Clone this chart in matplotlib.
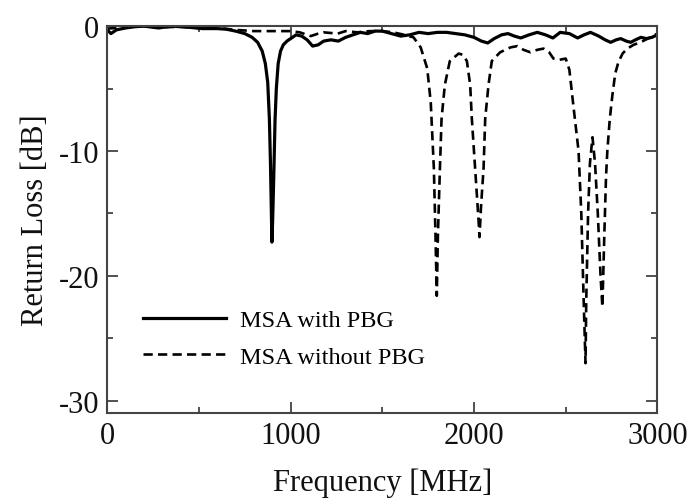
import matplotlib
matplotlib.use("Agg")
import matplotlib.pyplot as plt
from matplotlib.ticker import MultipleLocator

plt.rcParams["font.family"] = ["Liberation Serif", "DejaVu Serif"]
plt.rcParams["axes.unicode_minus"] = False

# MSA with PBG (solid)
freq_pbg = [0, 20, 50, 100, 150, 200, 280, 350, 400, 450, 520, 600, 650, 700, 750,
            790, 820, 845, 862, 875, 884, 890, 895, 898, 902, 908, 915, 922, 932,
            945, 960, 980, 1000, 1030, 1060, 1090, 1120, 1150, 1180, 1220, 1260,
            1300, 1340, 1380, 1420, 1460, 1500, 1550, 1600, 1650, 1700, 1750, 1800,
            1850, 1900, 1950, 2000, 2040, 2075, 2110, 2150, 2185, 2220, 2255, 2300,
            2345, 2390, 2430, 2470, 2520, 2565, 2600, 2635, 2680, 2715, 2745, 2775,
            2800, 2830, 2855, 2880, 2910, 2940, 2970, 3000]
rl_pbg = [-0.3, -0.6, -0.3, -0.15, -0.05, 0.0, -0.15, 0.0, -0.05, -0.1, -0.2, -0.2,
          -0.25, -0.4, -0.6, -0.9, -1.3, -2.0, -3.0, -4.5, -7.4, -11.0, -15.0, -17.3,
          -15.5, -12.0, -7.5, -5.0, -3.0, -2.0, -1.5, -1.2, -1.0, -0.7, -0.8, -1.1,
          -1.6, -1.5, -1.2, -1.1, -1.2, -0.9, -0.7, -0.5, -0.6, -0.4, -0.4, -0.6,
          -0.8, -0.7, -0.5, -0.6, -0.5, -0.5, -0.6, -0.7, -0.9, -1.2, -1.35, -1.0,
          -0.7, -0.6, -0.8, -0.95, -0.7, -0.5, -0.7, -0.95, -0.5, -0.6, -0.95, -0.7,
          -0.5, -0.8, -1.1, -1.3, -1.1, -1.0, -1.2, -1.3, -1.1, -0.9, -1.0, -0.9, -0.7]

# MSA without PBG (dashed)
freq_nopbg = [0, 100, 200, 300, 400, 500, 600, 700, 800, 900, 1000, 1050, 1110, 1150,
              1180, 1257, 1300, 1365, 1430, 1500, 1560, 1620, 1670, 1709, 1745, 1764,
              1781, 1790, 1797, 1803, 1814, 1823, 1841, 1868, 1916, 1940, 1961, 1979,
              1988, 2006, 2024, 2030, 2038, 2052, 2061, 2079, 2097, 2142, 2200, 2237,
              2270, 2308, 2345, 2379, 2410, 2433, 2465, 2500, 2520, 2542, 2570, 2585,
              2598, 2608, 2612, 2622, 2632, 2646, 2660, 2675, 2690, 2700, 2710, 2720,
              2727, 2740, 2754, 2770, 2787, 2810, 2836, 2870, 2907, 2961, 3000]
rl_nopbg = [-0.2, -0.1, 0.0, -0.1, -0.05, -0.15, -0.15, -0.3, -0.4, -0.4, -0.4, -0.5,
            -0.8, -0.6, -0.5, -0.6, -0.4, -0.5, -0.4, -0.4, -0.5, -0.7, -0.9, -1.7,
            -3.4, -6.1, -11.4, -16.8, -21.6, -16.8, -11.4, -7.4, -4.7, -2.8, -2.2,
            -2.3, -2.8, -4.7, -7.4, -11.4, -15.4, -16.9, -14.5, -11.4, -7.4, -4.7,
            -2.8, -2.1, -1.7, -1.6, -1.9, -2.1, -1.9, -1.8, -2.1, -2.6, -2.7, -2.6,
            -3.5, -6.4, -10.0, -15.0, -22.0, -27.0, -22.0, -15.0, -11.0, -8.9, -11.0,
            -15.0, -20.0, -22.5, -17.0, -12.0, -10.0, -7.5, -5.6, -3.8, -2.9, -2.2,
            -1.8, -1.5, -1.3, -0.9, -0.6]

fig = plt.figure(figsize=(6.92, 5.02), dpi=100)
ax = fig.add_axes([0.155, 0.175, 0.795, 0.771])

ax.plot(freq_nopbg, rl_nopbg, color="black", lw=1.9, dashes=(3.5, 2),
        label="MSA without PBG")
ax.plot(freq_pbg, rl_pbg, color="black", lw=2.3, label="MSA with PBG")

ax.set_xlim(0, 3000)
ax.set_ylim(-31, 0)
ax.xaxis.set_major_locator(MultipleLocator(1000))
ax.xaxis.set_minor_locator(MultipleLocator(500))
ax.yaxis.set_major_locator(MultipleLocator(10))
ax.yaxis.set_minor_locator(MultipleLocator(5))
ax.tick_params(which="both", direction="in", top=True, right=True,
               colors="#333333", labelcolor="#111111", labelsize=22, width=1.2)
ax.tick_params(which="major", length=8, pad=6)
ax.tick_params(which="minor", length=4)
for s in ax.spines.values():
    s.set_color("#444444")
    s.set_linewidth(1.5)

ax.set_xlabel("Frequency [MHz]", fontsize=22, color="#111111", labelpad=12)
ax.set_ylabel("Return Loss [dB]", fontsize=22, color="#111111", labelpad=6)

handles, labels = ax.get_legend_handles_labels()
ax.legend(handles[::-1], labels[::-1], loc="upper left", bbox_to_anchor=(0.025, 0.325),
          frameon=False, fontsize=17.5, handlelength=3.4, handletextpad=0.6,
          labelspacing=0.6)

fig.savefig("out.png", dpi=100)
